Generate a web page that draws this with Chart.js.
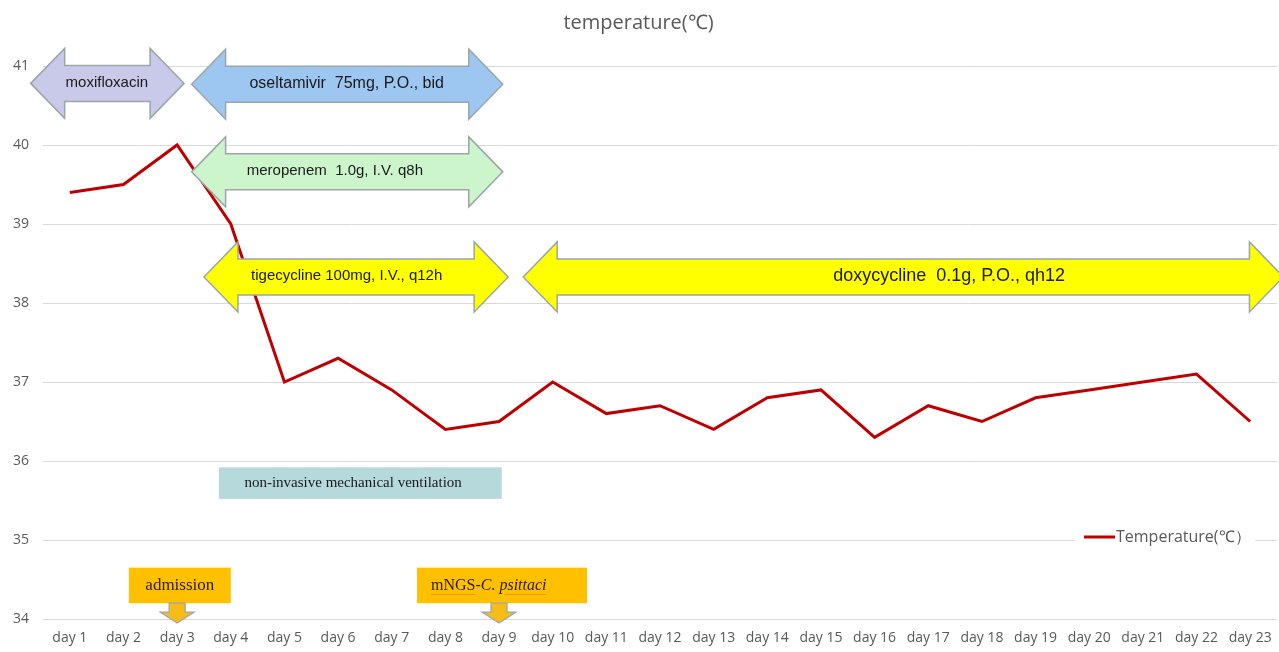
<!DOCTYPE html>
<html>
<head>
<meta charset="utf-8">
<script src="https://cdn.jsdelivr.net/npm/chart.js@4.4.1/dist/chart.umd.min.js"></script>
<style>
  body { margin: 0; background: #fff; }
  #wrap { width: 1279px; height: 652px; }
</style>
</head>
<body>
<div id="wrap"><canvas id="tempChart"></canvas></div>
<script>
// data
const days = ['day 1', 'day 2', 'day 3', 'day 4', 'day 5', 'day 6', 'day 7', 'day 8', 'day 9', 'day 10',
  'day 11', 'day 12', 'day 13', 'day 14', 'day 15', 'day 16', 'day 17', 'day 18', 'day 19', 'day 20',
  'day 21', 'day 22', 'day 23'];
const temperature = [39.4, 39.5, 40.0, 39.0, 37.0, 37.3, 36.9, 36.4, 36.5, 37.0,
  36.6, 36.7, 36.4, 36.8, 36.9, 36.3, 36.7, 36.5, 36.8, 36.9,
  37.0, 37.1, 36.5];
const yTicks = [34, 35, 36, 37, 38, 39, 40, 41];

// treatment arrows: from / to in day index (0 = day 1), y in temperature units
const drugLabels = ['moxifloxacin', 'oseltamivir  75mg, P.O., bid', 'meropenem  1.0g, I.V. q8h',
  'tigecycline 100mg, I.V., q12h', 'doxycycline  0.1g, P.O., qh12'];
const drugFrom = [-0.73, 2.27, 2.27, 2.50, 8.45];
const drugTo = [2.13, 8.07, 8.07, 8.17, 22.62];
const drugY = [40.78, 40.77, 39.66, 38.33, 38.33];
const drugTextAt = [0.69, 5.16, 4.94, 5.16, 16.39];

// event boxes
const eventLabels = ['admission', 'mNGS-'];
const eventDay = [2, 8];

function drawDoubleArrow(ctx, x0, x1, y, fill, headH, shaftH, headLen) {
  ctx.beginPath();
  ctx.moveTo(x0, y);
  ctx.lineTo(x0 + headLen, y - headH);
  ctx.lineTo(x0 + headLen, y - shaftH);
  ctx.lineTo(x1 - headLen, y - shaftH);
  ctx.lineTo(x1 - headLen, y - headH);
  ctx.lineTo(x1, y);
  ctx.lineTo(x1 - headLen, y + headH);
  ctx.lineTo(x1 - headLen, y + shaftH);
  ctx.lineTo(x0 + headLen, y + shaftH);
  ctx.lineTo(x0 + headLen, y + headH);
  ctx.closePath();
  ctx.fillStyle = fill;
  ctx.fill();
  ctx.strokeStyle = '#9aa6a8';
  ctx.lineWidth = 1.5;
  ctx.stroke();
}

function drawDownArrow(ctx, x, yTop, yTip) {
  const yHead = yTop + (yTip - yTop) * 0.45;
  ctx.beginPath();
  ctx.moveTo(x - 8, yTop);
  ctx.lineTo(x + 8, yTop);
  ctx.lineTo(x + 8, yHead);
  ctx.lineTo(x + 17, yHead);
  ctx.lineTo(x, yTip);
  ctx.lineTo(x - 17, yHead);
  ctx.lineTo(x - 8, yHead);
  ctx.closePath();
  ctx.fillStyle = '#f7bc16';
  ctx.fill();
  ctx.strokeStyle = '#9aa6b0';
  ctx.lineWidth = 1.2;
  ctx.stroke();
}

const annotationPlugin = {
  id: 'treatmentNotes',
  afterDatasetsDraw: (chart) => {
    const {ctx, scales} = chart;
    const x = scales.x, y = scales.y;
    const fills = ['#c9c9ea', '#9dc6f0', '#ccf5cc', '#ffff00', '#ffff00'];
    const fonts = ['15px "Liberation Sans"', '16px "Liberation Sans"', '15px "Liberation Sans"',
      '15px "Liberation Sans"', '18px "Liberation Sans"'];
    ctx.save();

    drugLabels.forEach((label, i) => {
      const yc = y.getPixelForValue(drugY[i]);
      drawDoubleArrow(ctx, x.getPixelForValue(drugFrom[i]), x.getPixelForValue(drugTo[i]), yc,
        fills[i], 35, 18, 34);
      ctx.fillStyle = '#1a1a1a';
      ctx.font = fonts[i];
      ctx.textAlign = 'center';
      ctx.textBaseline = 'middle';
      ctx.fillText(label, x.getPixelForValue(drugTextAt[i]), yc - 1);
    });

    // ventilation box
    const vx0 = x.getPixelForValue(2.78), vx1 = x.getPixelForValue(8.05);
    const vy0 = y.getPixelForValue(35.92), vy1 = y.getPixelForValue(35.52);
    ctx.fillStyle = '#b6d9dc';
    ctx.fillRect(vx0, vy0, vx1 - vx0, vy1 - vy0);
    ctx.fillStyle = '#1a1a1a';
    ctx.font = '15px "Liberation Serif"';
    ctx.textAlign = 'center';
    ctx.fillText('non-invasive mechanical ventilation', x.getPixelForValue(5.28), (vy0 + vy1) / 2);

    // event boxes with down arrows
    const boxFrom = [1.10, 6.47], boxTo = [3.00, 9.64];
    const bTop = y.getPixelForValue(34.65), bBot = y.getPixelForValue(34.2);
    eventLabels.forEach((label, i) => {
      const bx0 = x.getPixelForValue(boxFrom[i]), bx1 = x.getPixelForValue(boxTo[i]);
      ctx.fillStyle = '#ffc000';
      ctx.fillRect(bx0, bTop, bx1 - bx0, bBot - bTop);
      drawDownArrow(ctx, x.getPixelForValue(eventDay[i]), bBot, y.getPixelForValue(34) + 4);
      ctx.fillStyle = '#2a1e00';
      ctx.textBaseline = 'middle';
      const ty = (bTop + bBot) / 2;
      if (i === 0) {
        ctx.font = '17px "Liberation Serif"';
        ctx.textAlign = 'center';
        ctx.fillText(label, (bx0 + bx1) / 2, ty);
      } else {
        ctx.textAlign = 'left';
        ctx.font = '16px "Liberation Serif"';
        const tx = bx0 + 14;
        ctx.fillText(label, tx, ty);
        const w1 = ctx.measureText(label).width;
        ctx.font = 'italic 16px "Liberation Serif"';
        ctx.fillText('C. psittaci', tx + w1, ty);
        const w2 = ctx.measureText('C. psittaci').width;
        ctx.strokeStyle = 'rgba(210,90,40,0.45)';
        ctx.lineWidth = 1;
        ctx.beginPath();
        ctx.moveTo(tx, ty + 9);
        ctx.lineTo(tx + w1 - 6, ty + 9);
        ctx.moveTo(tx + w1 + 24, ty + 9);
        ctx.lineTo(tx + w1 + w2, ty + 9);
        ctx.stroke();
      }
    });

    // legend inside the plot, bottom right
    const ds = chart.data.datasets[0];
    const ly = y.getPixelForValue(35) - 3;
    ctx.fillStyle = '#ffffff';
    ctx.fillRect(1075, ly - 12, 180, 22);
    ctx.strokeStyle = ds.borderColor;
    ctx.lineWidth = 3;
    ctx.beginPath();
    ctx.moveTo(1084, ly);
    ctx.lineTo(1115, ly);
    ctx.stroke();
    ctx.fillStyle = '#595959';
    ctx.font = '16px "Open Sans"';
    ctx.textAlign = 'left';
    ctx.fillText(ds.label, 1116, ly);

    ctx.restore();
  }
};

function createTemperatureChart() {
  const canvas = document.querySelector('#tempChart');

  const config = {
    type: 'line',
    data: {
      labels: days,
      datasets: [{
        label: 'Temperature(℃）',
        data: temperature,
        borderColor: '#c00000',
        borderWidth: 3,
        pointRadius: 0,
        tension: 0,
        fill: false
      }]
    },
    options: {
      responsive: true,
      maintainAspectRatio: false,
      animation: false,
      layout: { padding: { left: 0, right: 2, top: 0, bottom: 0 } },
      plugins: {
        legend: { display: false },
        tooltip: { enabled: false },
        title: {
          display: true,
          text: 'temperature(℃)',
          color: '#595959',
          font: { family: 'Open Sans', size: 20, weight: 'normal' },
          padding: { top: 11, bottom: 31 }
        }
      },
      scales: {
        x: {
          offset: true,
          grid: { display: false },
          border: { display: false },
          ticks: {
            color: '#595959',
            font: { family: 'Open Sans', size: 14 },
            padding: 3,
            maxRotation: 0,
            autoSkip: false
          },
          afterFit: (scale) => { scale.height = 33; }
        },
        y: {
          min: 34,
          max: 41,
          afterBuildTicks: (scale) => { scale.ticks = yTicks.map(v => ({ value: v })); },
          grid: { color: '#d9d9d9', lineWidth: 1, drawTicks: false },
          border: { display: false },
          ticks: {
            color: '#595959',
            font: { family: 'Open Sans', size: 14 },
            padding: 14
          },
          afterFit: (scale) => { scale.width = 43; }
        }
      }
    },
    plugins: [annotationPlugin]
  };

  new Chart(canvas, config);
}

createTemperatureChart();
</script>
</body>
</html>
